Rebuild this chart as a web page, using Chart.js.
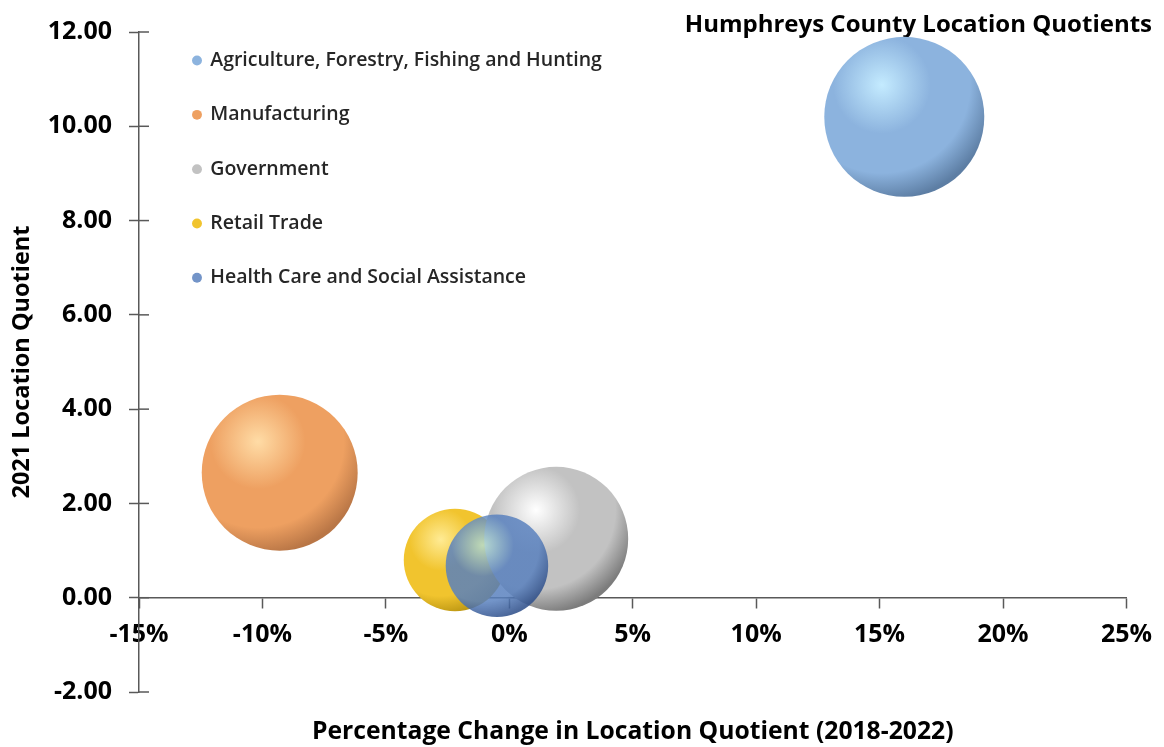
<!DOCTYPE html>
<html>
<head>
<meta charset="utf-8">
<title>Humphreys County Location Quotients</title>
<script src="https://cdn.jsdelivr.net/npm/chart.js@4.4.1/dist/chart.umd.min.js"></script>
<style>
  html, body { margin: 0; padding: 0; background: #fff; }
</style>
</head>
<body>
<canvas id="lqChart" width="1164" height="747"></canvas>
<script>
// Industries (one bubble each)
const industries = [
    'Agriculture, Forestry, Fishing and Hunting',
    'Manufacturing',
    'Government',
    'Retail Trade',
    'Health Care and Social Assistance'
];
// % change in location quotient 2018-2022
const pctChange = [16.0, -9.3, 1.9, -2.2, -0.5];
// 2021 location quotient
const lq2021 = [10.2, 2.65, 1.25, 0.8, 0.68];
// relative bubble size (area)
const bubbleSize = [100, 95, 81, 41, 41];

// axis ranges
const xMin = -15, xMax = 25, xStep = 5;
const yMin = -2, yMax = 12, yStep = 2;

// sphere colours
const palette = [
    { hi: '#c4ebff', mid: '#8cb3de', dark: '#5d7ea4' },
    { hi: '#ffdca6', mid: '#eea061', dark: '#b97646' },
    { hi: '#ffffff', mid: '#c2c2c2', dark: '#7c7c7c' },
    { hi: '#ffeb94', mid: '#f1c42e', dark: '#bf9914' },
    { hi: 'rgba(180,222,212,0.82)', mid: 'rgba(88,128,190,0.84)', dark: 'rgba(50,82,140,0.88)' }
];
const axisColor = '#595959';
const maxRadius = 80;

Chart.defaults.font.family = '"Open Sans", Lato, sans-serif';
Chart.defaults.color = '#000';

function sphereFill(i) {
    return function (context) {
        const c = palette[i];
        const chart = context.chart;
        if (context.type !== 'data' || !chart.chartArea || !context.raw) return c.mid;
        const px = chart.scales.x.getPixelForValue(context.raw.x);
        const py = chart.scales.y.getPixelForValue(context.raw.y);
        const r = context.raw.r;
        const hx = px - r * 0.28, hy = py - r * 0.4;
        const g = chart.ctx.createRadialGradient(hx, hy, 0, hx, hy, r * 1.45);
        g.addColorStop(0, c.hi);
        g.addColorStop(0.42, c.mid);
        g.addColorStop(0.76, c.mid);
        g.addColorStop(1, c.dark);
        return g;
    };
}

const datasets = industries.map((name, i) => ({
    label: name,
    data: [{ x: pctChange[i], y: lq2021[i], r: maxRadius * Math.sqrt(bubbleSize[i] / 100) }],
    backgroundColor: sphereFill(i),
    borderWidth: 0,
    clip: false,
    order: i === 4 ? 0 : 1
}));

// tick marks on the inner side of the y axis
const innerTicks = {
    id: 'innerTicks',
    afterDraw(chart) {
        const ys = chart.scales.y;
        const left = chart.chartArea.left;
        const ctx = chart.ctx;
        ctx.save();
        ctx.strokeStyle = axisColor;
        ctx.lineWidth = 1.5;
        ys.ticks.forEach(t => {
            const py = ys.getPixelForValue(t.value);
            ctx.beginPath();
            ctx.moveTo(left, py);
            ctx.lineTo(left + 10, py);
            ctx.stroke();
        });
        ctx.restore();
    }
};

// move the legend into the upper left of the plot
const legendPlace = {
    id: 'legendPlace',
    afterLayout(chart) {
        const lg = chart.legend;
        const area = chart.chartArea;
        const w = lg.width, h = lg.height;
        lg.left = area.left + 19.7;
        lg.right = lg.left + w;
        lg.top = area.top - 16;
        lg.bottom = lg.top + h;
    }
};

new Chart(document.getElementById('lqChart'), {
    type: 'bubble',
    data: { datasets },
    plugins: [innerTicks, legendPlace],
    options: {
        responsive: false,
        animation: false,
        events: [],
        layout: { autoPadding: false, padding: { left: 0, right: 12, top: 0, bottom: 0 } },
        plugins: {
            title: {
                display: true,
                text: 'Humphreys County Location Quotients',
                align: 'end',
                color: '#000',
                font: { size: 24, weight: 'bold' },
                padding: { top: 11, bottom: -8 }
            },
            legend: {
                position: 'chartArea',
                align: 'start',
                fullSize: false,
                labels: {
                    usePointStyle: true,
                    pointStyle: 'circle',
                    boxWidth: 7,
                    boxHeight: 7,
                    padding: 34.8,
                    color: '#262626',
                    font: { size: 19.5, weight: '600' },
                    sort: (a, b) => a.datasetIndex - b.datasetIndex,
                    generateLabels(chart) {
                        const items = Chart.defaults.plugins.legend.labels.generateLabels(chart);
                        items.forEach(it => {
                            it.fillStyle = palette[it.datasetIndex].mid;
                            it.strokeStyle = palette[it.datasetIndex].mid;
                            it.lineWidth = 0;
                        });
                        return items;
                    }
                }
            },
            tooltip: { enabled: false }
        },
        scales: {
            x: {
                type: 'linear',
                position: { y: 0 },
                min: xMin,
                max: xMax,
                ticks: {
                    stepSize: xStep,
                    padding: 12,
                    color: '#000',
                    font: { size: 25, weight: 'bold' },
                    callback: v => v + '%'
                },
                grid: { drawOnChartArea: false, tickLength: 10, tickColor: axisColor, tickWidth: 1.5 },
                border: { display: true, color: axisColor, width: 1.5 },
                afterFit: s => { s.height = 0; }
            },
            x2: {
                type: 'linear',
                position: 'bottom',
                min: xMin,
                max: xMax,
                ticks: { display: false },
                grid: { display: false },
                border: { display: false },
                title: {
                    display: true,
                    text: 'Percentage Change in Location Quotient (2018-2022)',
                    color: '#000',
                    font: { size: 24.7, weight: 'bold' },
                    padding: { top: 0, bottom: 0 }
                },
                afterFit: s => { s.height = 55; }
            },
            y: {
                type: 'linear',
                position: 'left',
                min: yMin,
                max: yMax,
                ticks: {
                    stepSize: yStep,
                    padding: 17,
                    color: '#000',
                    font: { size: 25, weight: 'bold' },
                    callback: v => v.toFixed(2)
                },
                grid: { drawOnChartArea: false, tickLength: 10, tickColor: axisColor, tickWidth: 1.5 },
                border: { display: true, color: axisColor, width: 1.5 },
                title: {
                    display: true,
                    text: '2021 Location Quotient',
                    color: '#000',
                    font: { size: 23.5, weight: 'bold' },
                    padding: { top: 8, bottom: 0 }
                },
                afterFit: s => { s.width = 139; }
            },
            y2: {
                type: 'linear',
                position: 'right',
                min: yMin,
                max: yMax,
                ticks: { display: false },
                grid: { display: false },
                border: { display: false },
                afterFit: s => { s.width = 24; }
            }
        }
    }
});
</script>
</body>
</html>
